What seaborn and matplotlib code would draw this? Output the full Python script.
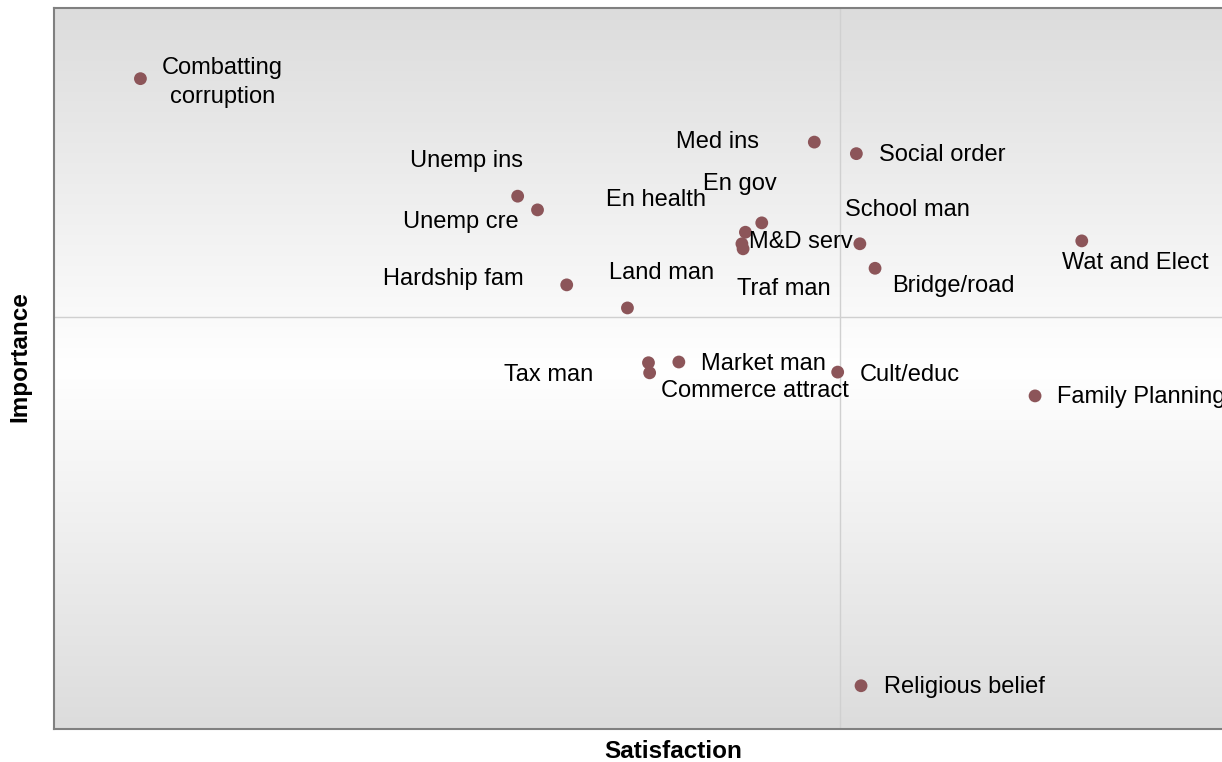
import numpy as np
import pandas as pd
import matplotlib
matplotlib.use("Agg")

import matplotlib.pyplot as plt
import seaborn as sns
from matplotlib.colors import LinearSegmentedColormap


# ==============================
# DATA
# ==============================
services = [
    "Combatting\ncorruption", "Med ins", "Social order", "Unemp ins", "Unemp cre",
    "En gov", "En health", "M&D serv", "Traf man", "School man",
    "Wat and Elect", "Bridge/road", "Hardship fam", "Land man", "Tax man",
    "Market man", "Commerce attract", "Cult/educ", "Family Planning", "Religious belief",
]
satisfaction = [
    7.4, 65.1, 68.7, 39.7, 41.4,
    60.6, 59.2, 58.9, 59.0, 69.0,
    88.0, 70.3, 43.9, 49.1, 50.9,
    53.5, 51.0, 67.1, 84.0, 69.1,
]
importance = [
    90.2, 81.4, 79.8, 73.9, 72.0,
    70.2, 68.9, 67.3, 66.6, 67.3,
    67.7, 63.9, 61.6, 58.4, 50.8,
    50.9, 49.4, 49.5, 46.2, 6.0,
]
satisfaction_ref = 67.3
importance_ref = 57.1

df = pd.DataFrame({"service": services,
                   "Satisfaction": satisfaction,
                   "Importance": importance})

# label placement: (dx px, dy px, ha)
label_pos = {
    "Combatting\ncorruption": (82, -4, "center"),
    "Med ins": (-55, 0, "right"),
    "Social order": (23, -1, "left"),
    "Unemp ins": (-51, 35, "center"),
    "Unemp cre": (-19, -12, "right"),
    "En gov": (-22, 39, "center"),
    "En health": (-39, 32, "right"),
    "M&D serv": (7, 2, "left"),
    "Traf man": (41, -40, "center"),
    "School man": (48, 34, "center"),
    "Wat and Elect": (54, -22, "center"),
    "Bridge/road": (17, -18, "left"),
    "Hardship fam": (-43, 6, "right"),
    "Land man": (34, 35, "center"),
    "Tax man": (-55, -12, "right"),
    "Market man": (22, -2, "left"),
    "Commerce attract": (11, -18, "left"),
    "Cult/educ": (22, -3, "left"),
    "Family Planning": (22, -1, "left"),
    "Religious belief": (23, -1, "left"),
}

# ==============================
# STYLE
# ==============================
sns.set_style("white")
plt.rcParams["font.family"] = ["Liberation Sans", "DejaVu Sans"]

fig = plt.figure(figsize=(12.22, 7.62), dpi=100)
# plot area runs past the right edge of the picture
ax = fig.add_axes([54 / 1222, 33 / 762, 1238 / 1222, 721 / 762])

# gray - white - gray background
cmap = LinearSegmentedColormap.from_list("bg", ["#dcdcdc", "#ffffff", "#dcdcdc"])
ax.imshow(np.linspace(0, 1, 256).reshape(-1, 1), cmap=cmap, aspect="auto",
          extent=[0, 1, 0, 1], transform=ax.transAxes, zorder=0)

ax.axvline(satisfaction_ref, color="#d0d0d0", lw=1, zorder=1)
ax.axhline(importance_ref, color="#d0d0d0", lw=1, zorder=1)

sns.scatterplot(data=df, x="Satisfaction", y="Importance", ax=ax,
                color="#8c5559", s=85, edgecolor="none", zorder=3)

for name, x, y in zip(services, satisfaction, importance):
    dx, dy, ha = label_pos[name]
    ax.annotate(name, (x, y), xytext=(dx, dy), textcoords="offset pixels",
                ha=ha, va="center", multialignment="center", linespacing=1.4,
                fontsize=17, color="#000000", zorder=4)

ax.set_xlim(0, 106.0)
ax.set_ylim(0, 100)
ax.set_xticks([])
ax.set_yticks([])
ax.set_xlabel("Satisfaction", fontsize=17.5, fontweight="bold", labelpad=8,
              color="#000000")
ax.set_ylabel("Importance", fontsize=17.5, fontweight="bold", color="#000000")
ax.yaxis.set_label_coords(-0.0186, 0.516)

for side in ["left", "bottom", "top", "right"]:
    ax.spines[side].set_color("#808080")
    ax.spines[side].set_linewidth(1.5)

plt.savefig("out.png", dpi=100)
plt.close()
